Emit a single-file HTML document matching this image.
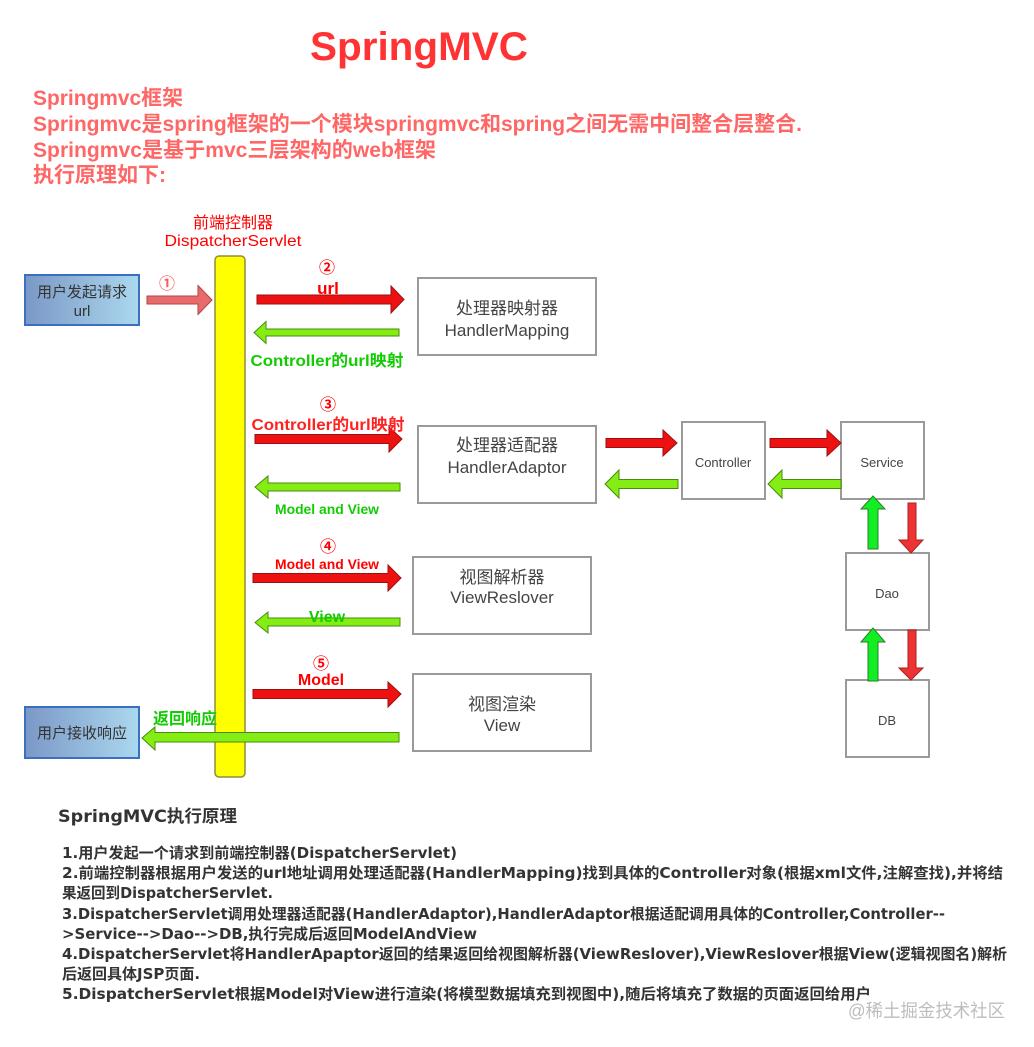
<!DOCTYPE html>
<html>
<head>
<meta charset="utf-8">
<style>
  html,body{margin:0;padding:0;background:#fff;}
  body{width:1034px;height:1047px;overflow:hidden;}
  svg{display:block;}
  .sans{font-family:"Liberation Sans","Noto Sans CJK SC",sans-serif;}
  .dv{font-family:"DejaVu Sans","Noto Sans CJK SC",sans-serif;}
  .cj{font-family:"Noto Sans CJK SC","Noto Sans CJK JP",sans-serif;}
</style>
</head>
<body>
<svg width="1034" height="1047" viewBox="0 0 1034 1047" xmlns="http://www.w3.org/2000/svg">
  <defs>
    <linearGradient id="ub" x1="0" y1="0" x2="1" y2="0">
      <stop offset="0" stop-color="#7b98c6"/>
      <stop offset="1" stop-color="#abd8ee"/>
    </linearGradient>
  </defs>

  <!-- Title -->
  <text class="sans" x="419" y="60" text-anchor="middle" font-size="40" font-weight="bold" fill="#ff3333" textLength="218" lengthAdjust="spacingAndGlyphs">SpringMVC</text>

  <!-- Subtitle lines -->
  <g class="sans" font-size="21" font-weight="bold" fill="#ff6666">
    <text x="33" y="105" textLength="150" lengthAdjust="spacingAndGlyphs">Springmvc框架</text>
    <text x="33" y="131" textLength="769" lengthAdjust="spacingAndGlyphs">Springmvc是spring框架的一个模块springmvc和spring之间无需中间整合层整合.</text>
    <text x="33" y="157" textLength="403" lengthAdjust="spacingAndGlyphs">Springmvc是基于mvc三层架构的web框架</text>
    <text x="33" y="182" textLength="133" lengthAdjust="spacingAndGlyphs">执行原理如下:</text>
  </g>

  <!-- Dispatcher label -->
  <g class="sans" fill="#ff0000" text-anchor="middle">
    <text x="233" y="228" font-size="16" textLength="80" lengthAdjust="spacingAndGlyphs">前端控制器</text>
    <text x="233" y="246" font-size="16" textLength="137" lengthAdjust="spacingAndGlyphs">DispatcherServlet</text>
  </g>

  <!-- Yellow bar -->
  <rect x="215" y="256" width="30" height="521" rx="4" ry="4" fill="#ffff00" stroke="#8e8e3c" stroke-width="1.5"/>

  <!-- User boxes -->
  <rect x="25" y="275" width="114" height="50" fill="url(#ub)" stroke="#3b6fc2" stroke-width="2"/>
  <g class="sans" fill="#333" font-size="15" text-anchor="middle">
    <text x="82" y="297">用户发起请求</text>
    <text x="82" y="316">url</text>
  </g>
  <rect x="25" y="707" width="114" height="51" fill="url(#ub)" stroke="#3b6fc2" stroke-width="2"/>
  <text class="sans" x="82" y="738" fill="#333" font-size="15" text-anchor="middle">用户接收响应</text>

  <!-- Gray boxes -->
  <g fill="#fff" stroke="#9a9a9a" stroke-width="2">
    <rect x="418" y="278" width="178" height="77"/>
    <rect x="418" y="426" width="178" height="77"/>
    <rect x="413" y="557" width="178" height="77"/>
    <rect x="413" y="674" width="178" height="77"/>
    <rect x="682" y="422" width="83" height="77"/>
    <rect x="841" y="422" width="83" height="77"/>
    <rect x="846" y="553" width="83" height="77"/>
    <rect x="846" y="680" width="83" height="77"/>
  </g>
  <g class="sans" fill="#444" font-size="17" text-anchor="middle">
    <text x="507" y="314">处理器映射器</text>
    <text x="507" y="336">HandlerMapping</text>
    <text x="507" y="451">处理器适配器</text>
    <text x="507" y="473">HandlerAdaptor</text>
    <text x="502" y="583">视图解析器</text>
    <text x="502" y="603">ViewReslover</text>
    <text x="502" y="710">视图渲染</text>
    <text x="502" y="731">View</text>
  </g>
  <g class="sans" fill="#444" font-size="13" text-anchor="middle">
    <text x="723" y="467">Controller</text>
    <text x="882" y="467">Service</text>
    <text x="887" y="598">Dao</text>
    <text x="887" y="725">DB</text>
  </g>

  <!-- Arrows: horizontal -->
  <polygon points="147,296 198,296 198,285.5 212,300 198,314.5 198,304 147,304" fill="#e86a6a" stroke="#b04545" stroke-width="1"/>
  <polygon points="257,295 391,295 391,286 404,299.5 391,313 391,304 257,304" fill="#ee1111" stroke="#9a1010" stroke-width="1"/>
  <polygon points="399,329 266,329 266,321.5 254,332.5 266,343.5 266,336 399,336" fill="#84ee14" stroke="#4a8a10" stroke-width="1"/>
  <polygon points="255,434.5 389,434.5 389,427 402,439 389,452 389,443.5 255,443.5" fill="#ee1111" stroke="#9a1010" stroke-width="1"/>
  <polygon points="400,483 268,483 268,476 255,487 268,498 268,491 400,491" fill="#84ee14" stroke="#4a8a10" stroke-width="1"/>
  <polygon points="253,573.5 388,573.5 388,565 401,578 388,591 388,582.5 253,582.5" fill="#ee1111" stroke="#9a1010" stroke-width="1"/>
  <polygon points="400,618 268,618 268,612 255,622.5 268,633 268,626 400,626" fill="#84ee14" stroke="#4a8a10" stroke-width="1"/>
  <polygon points="253,689.5 388,689.5 388,682 401,694 388,707 388,698.5 253,698.5" fill="#ee1111" stroke="#9a1010" stroke-width="1"/>
  <polygon points="399,732.5 155,732.5 155,727 142,738 155,750 155,742 399,742" fill="#84ee14" stroke="#4a8a10" stroke-width="1"/>
  <polygon points="606,438.5 663,438.5 663,430 677,443 663,456 663,447.5 606,447.5" fill="#ee1111" stroke="#9a1010" stroke-width="1"/>
  <polygon points="678,479.5 619,479.5 619,470 605,484 619,498 619,488.5 678,488.5" fill="#84ee14" stroke="#4a8a10" stroke-width="1"/>
  <polygon points="770,438.5 827,438.5 827,430 841,443 827,456 827,447.5 770,447.5" fill="#ee1111" stroke="#9a1010" stroke-width="1"/>
  <polygon points="841,479.5 782,479.5 782,470 768,484 782,498 782,488.5 841,488.5" fill="#84ee14" stroke="#4a8a10" stroke-width="1"/>

  <!-- vertical arrows -->
  <polygon points="868,549 868,509 861,509 873,496 885,509 878,509 878,549" fill="#11ee22" stroke="#2e7a2e" stroke-width="1"/>
  <polygon points="908,503 908,540 899,540 911,553 923,540 916,540 916,503" fill="#ee3333" stroke="#a82222" stroke-width="1"/>
  <polygon points="868,681 868,642 861,642 873,628 885,642 878,642 878,681" fill="#11ee22" stroke="#2e7a2e" stroke-width="1"/>
  <polygon points="908,630 908,668 899,668 911,680 923,668 916,668 916,630" fill="#ee3333" stroke="#a82222" stroke-width="1"/>

  <!-- Step numbers -->
  <g class="cj" text-anchor="middle" font-weight="bold" font-size="16">
    <text x="167" y="289" fill="#ff5a5a">①</text>
    <text x="327" y="273" fill="#ff0000">②</text>
    <text x="328" y="410" fill="#ff0000">③</text>
    <text x="328" y="552" fill="#ff0000">④</text>
    <text x="321" y="669" fill="#ff0000">⑤</text>
  </g>

  <!-- Step labels -->
  <g class="sans" text-anchor="middle">
    <text x="328" y="294" font-size="17" font-weight="bold" fill="#ff0000">url</text>
    <text x="327" y="366" font-size="16" font-weight="bold" fill="#11cc00" textLength="153" lengthAdjust="spacingAndGlyphs">Controller的url映射</text>
    <text x="328" y="430" font-size="16" font-weight="bold" fill="#ff2222" textLength="153" lengthAdjust="spacingAndGlyphs">Controller的url映射</text>
    <text x="327" y="514" font-size="14" font-weight="bold" fill="#11cc00" textLength="104" lengthAdjust="spacingAndGlyphs">Model and View</text>
    <text x="327" y="569" font-size="14" font-weight="bold" fill="#ff0000" textLength="104" lengthAdjust="spacingAndGlyphs">Model and View</text>
    <text x="327" y="622" font-size="16" font-weight="bold" fill="#11cc00">View</text>
    <text x="321" y="685" font-size="16" font-weight="bold" fill="#ff0000">Model</text>
    <text x="185" y="724" font-size="16" font-weight="bold" fill="#11cc00" textLength="64" lengthAdjust="spacingAndGlyphs">返回响应</text>
  </g>

  <!-- Bottom explanation -->
  <text class="dv" x="58" y="822" font-size="17" font-weight="bold" fill="#333" textLength="179" lengthAdjust="spacingAndGlyphs">SpringMVC执行原理</text>
  <g class="dv" font-size="15" font-weight="bold" fill="#333">
    <text x="62" y="858" textLength="395" lengthAdjust="spacingAndGlyphs">1.用户发起一个请求到前端控制器(DispatcherServlet)</text>
    <text x="62" y="878" textLength="941" lengthAdjust="spacingAndGlyphs">2.前端控制器根据用户发送的url地址调用处理适配器(HandlerMapping)找到具体的Controller对象(根据xml文件,注解查找),并将结</text>
    <text x="62" y="898" textLength="211" lengthAdjust="spacingAndGlyphs">果返回到DispatcherServlet.</text>
    <text x="62" y="919" textLength="883" lengthAdjust="spacingAndGlyphs">3.DispatcherServlet调用处理器适配器(HandlerAdaptor),HandlerAdaptor根据适配调用具体的Controller,Controller--</text>
    <text x="62" y="939" textLength="415" lengthAdjust="spacingAndGlyphs">&gt;Service--&gt;Dao--&gt;DB,执行完成后返回ModelAndView</text>
    <text x="62" y="959" textLength="945" lengthAdjust="spacingAndGlyphs">4.DispatcherServlet将HandlerApaptor返回的结果返回给视图解析器(ViewReslover),ViewReslover根据View(逻辑视图名)解析</text>
    <text x="62" y="979">后返回具体JSP页面.</text>
    <text x="62" y="999" textLength="809" lengthAdjust="spacingAndGlyphs">5.DispatcherServlet根据Model对View进行渲染(将模型数据填充到视图中),随后将填充了数据的页面返回给用户</text>
  </g>

  <!-- Watermark -->
  <text class="sans" x="848" y="1017" font-size="18" fill="#bdbdbd" textLength="157" lengthAdjust="spacingAndGlyphs">@稀土掘金技术社区</text>
</svg>
</body>
</html>
